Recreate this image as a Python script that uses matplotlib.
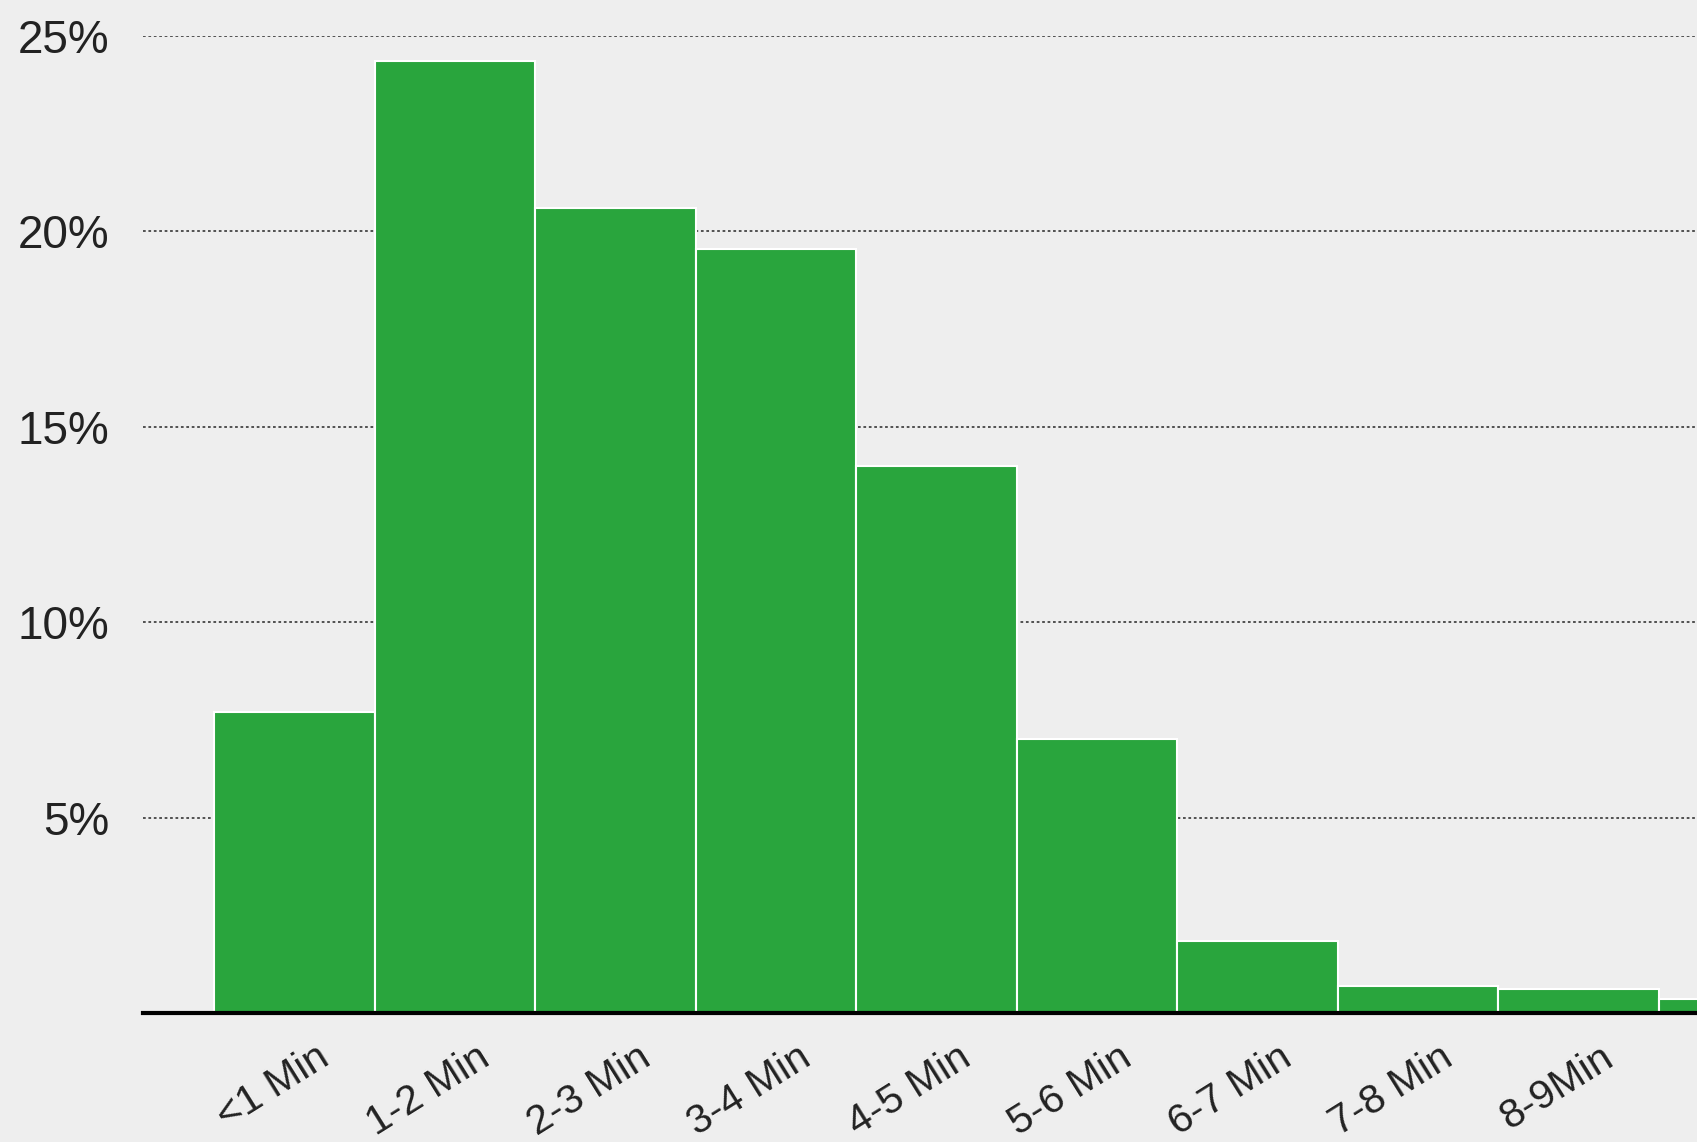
import matplotlib
matplotlib.use('Agg')
import matplotlib.pyplot as plt
import matplotlib.transforms as mtransforms

# dados
categorias = ['<1 Min', '1-2 Min', '2-3 Min', '3-4 Min', '4-5 Min',
              '5-6 Min', '6-7 Min', '7-8 Min', '8-9Min', '9-10 Min']
percentuais = [7.7, 24.35, 20.6, 19.55, 14.0, 7.0, 1.85, 0.7, 0.62, 0.35]
ticks_y = [5, 10, 15, 20, 25]
rotulos_y = ['5%', '10%', '15%', '20%', '25%']

plt.rcParams['font.family'] = ['Liberation Sans', 'DejaVu Sans']

fig = plt.figure(figsize=(16.97, 11.42), dpi=100)
fig.patch.set_facecolor('#eeeeee')
ax = fig.add_axes([0.0842, 0.113, 0.9158, 0.8557])
ax.set_facecolor('#eeeeee')

pos = list(range(len(categorias)))
ax.bar(pos, percentuais, width=1.0, color='#29a53d', edgecolor='white', linewidth=1.5)

xmin, xmax = -0.945, 8.738
# so os rotulos que cabem na figura (o ultimo esta cortado na borda)
visiveis = [p for p in pos if xmin <= p <= xmax]
ax.set_xticks(visiveis)
ax.set_xticklabels([categorias[p] for p in visiveis], fontsize=29.5, color='#222222',
                   rotation=32, ha='right', va='center', rotation_mode='anchor')
ax.tick_params(axis='x', length=0, pad=0)
desloc = mtransforms.ScaledTranslation(0.31, -0.41, fig.dpi_scale_trans)
for lb in ax.get_xticklabels():
    lb.set_transform(lb.get_transform() + desloc)

ax.set_xlim(xmin, xmax)
ax.set_ylim(0, 25)

ax.set_yticks(ticks_y)
ax.set_yticklabels(rotulos_y, fontsize=33, color='#222222')
ax.tick_params(axis='y', length=0, pad=24)

ax.yaxis.grid(True, linestyle=(0, (1.5, 1.5)), color='#444444', linewidth=1.3)
ax.set_axisbelow(True)

for lado in ['top', 'right', 'left']:
    ax.spines[lado].set_visible(False)
ax.spines['bottom'].set_color('black')
ax.spines['bottom'].set_linewidth(3)

plt.savefig('out.png', dpi=100, facecolor=fig.get_facecolor())
